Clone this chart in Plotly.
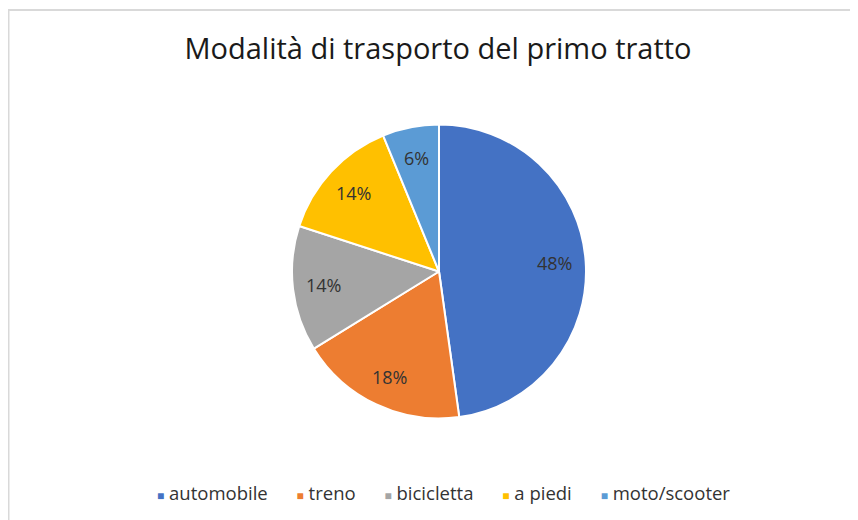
import math
import plotly.graph_objects as go

labels = ["automobile", "treno", "bicicletta", "a piedi", "moto/scooter"]
values = [47.8, 18.4, 13.8, 13.8, 6.2]
pct_labels = ["48%", "18%", "14%", "14%", "6%"]
colors = ["#4472C4", "#ED7D31", "#A5A5A5", "#FFC000", "#5B9BD5"]
title = "Modalità di trasporto del primo tratto"

W, H = 858, 520
cx, cy, r = 431, 263.5, 147
FONT = "'Open Sans', Lato, sans-serif"

fig = go.Figure(go.Pie(
    labels=labels, values=values, sort=False, direction="clockwise", rotation=0,
    marker=dict(colors=colors, line=dict(color="white", width=2)),
    textinfo="none",
    domain=dict(x=[(cx - r) / W, (cx + r) / W], y=[1 - (cy + r) / H, 1 - (cy - r) / H]),
    showlegend=False, hoverinfo="label+percent",
))

# data labels placed along each slice bisector (computed from values)
total = sum(values)
annotations = []
cum = 0.0
d = 0.79 * r
for v, t in zip(values, pct_labels):
    mid = (cum + v / 2) / total * 2 * math.pi
    cum += v
    x = cx + d * math.sin(mid)
    y = cy - d * math.cos(mid)
    annotations.append(dict(text=t, x=x / W, y=1 - y / H, xref="paper", yref="paper",
                            xanchor="center", yanchor="middle", showarrow=False,
                            font=dict(family=FONT, size=18, color="#333333")))

legend_text = "\u00a0\u00a0\u00a0\u00a0\u00a0\u00a0".join(
    f"<span style='color:{c};font-size:12px'>■</span>\u00a0{l}" for l, c in zip(labels, colors)
)
annotations.append(dict(text=legend_text, x=435 / W, y=1 - 484 / H, xref="paper", yref="paper",
                        xanchor="center", yanchor="middle", showarrow=False,
                        font=dict(family=FONT, size=18.5, color="#333333")))

fig.update_layout(
    width=W, height=H, margin=dict(l=0, r=0, t=0, b=0),
    paper_bgcolor="white", plot_bgcolor="white",
    title=dict(text=title, x=430 / W, xanchor="center", y=1 - 41 / H, yanchor="middle",
               font=dict(family=FONT, size=29, color="#1a1a1a")),
    annotations=annotations,
    shapes=[dict(type="rect", xref="paper", yref="paper", x0=0.5 / W, x1=1.05, y0=-0.05, y1=1 - 2 / H,
                 line=dict(color="#D9D9D9", width=2), fillcolor="rgba(0,0,0,0)")],
)

fig.write_html("out.html")
